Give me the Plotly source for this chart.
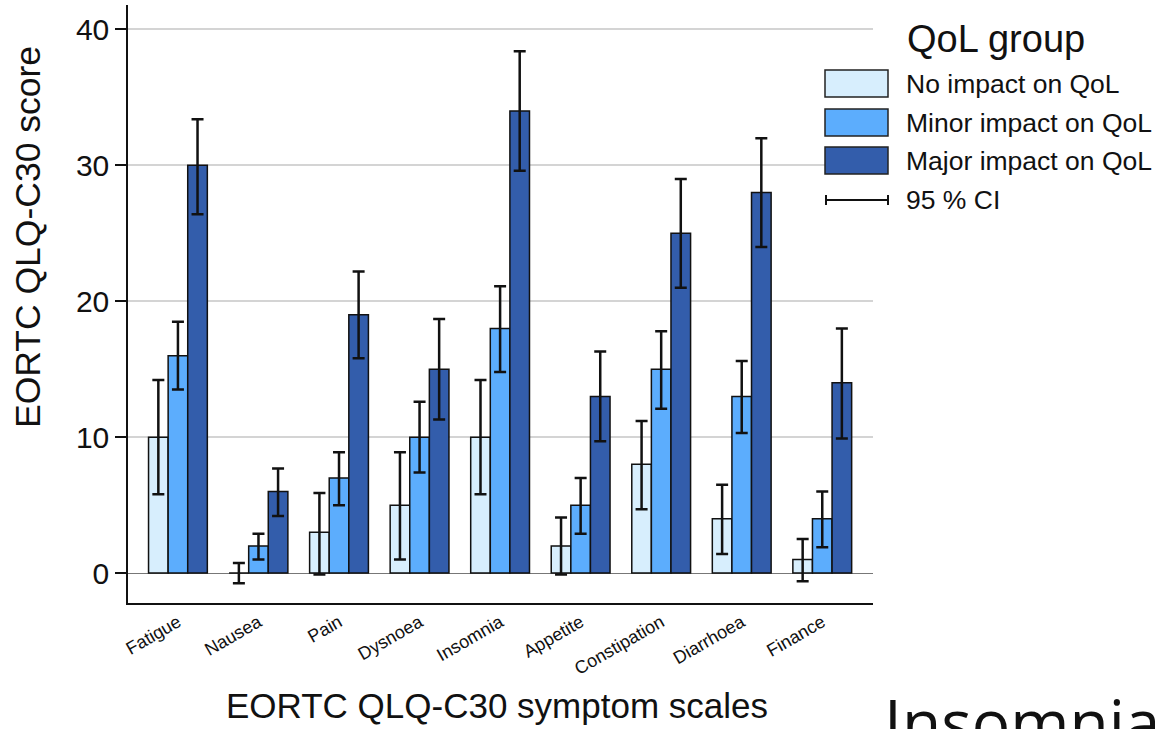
import plotly.graph_objects as go

categories = ["Fatigue", "Nausea", "Pain", "Dysnoea", "Insomnia", "Appetite",
              "Constipation", "Diarrhoea", "Finance"]
group_names = ["No impact on QoL", "Minor impact on QoL", "Major impact on QoL"]
group_colors = ["#d7eefd", "#5cadfd", "#335dab"]

no_impact = [10, 0, 3, 5, 10, 2, 8, 4, 1]
no_impact_lo = [5.8, -0.75, -0.1, 1.0, 5.8, -0.1, 4.7, 1.4, -0.6]
no_impact_hi = [14.2, 0.75, 5.9, 8.9, 14.2, 4.1, 11.2, 6.5, 2.5]

minor_impact = [16, 2, 7, 10, 18, 5, 15, 13, 4]
minor_impact_lo = [13.5, 1.0, 5.0, 7.4, 14.8, 2.9, 12.1, 10.3, 1.9]
minor_impact_hi = [18.5, 2.9, 8.9, 12.6, 21.1, 7.0, 17.8, 15.6, 6.0]

major_impact = [30, 6, 19, 15, 34, 13, 25, 28, 14]
major_impact_lo = [26.4, 4.2, 15.8, 11.3, 29.6, 9.7, 21.0, 24.0, 9.9]
major_impact_hi = [33.4, 7.7, 22.2, 18.7, 38.4, 16.3, 29.0, 32.0, 18.0]

y_ticks = [0, 10, 20, 30, 40]

series = [
    (no_impact, no_impact_lo, no_impact_hi),
    (minor_impact, minor_impact_lo, minor_impact_hi),
    (major_impact, major_impact_lo, major_impact_hi),
]

W, H = 1155, 729
L, R, T, B = 128, 873, 5, 603

fig = go.Figure()
for (vals, lo, hi), name, col in zip(series, group_names, group_colors):
    fig.add_trace(go.Bar(
        x=categories, y=vals, name=name, showlegend=False,
        marker=dict(color=col, line=dict(color="#111111", width=1.5)),
        error_y=dict(type="data", symmetric=False,
                     array=[h - v for h, v in zip(hi, vals)],
                     arrayminus=[v - l for v, l in zip(vals, lo)],
                     color="#111111", thickness=2.5, width=6),
    ))

font_main = "Liberation Sans, Arial, sans-serif"


def px(x):
    return (x - L) / (R - L)


def py(y):
    return (B - y) / (B - T)


shapes = []
annotations = []
# custom legend
box_tops = [70, 109, 147]
for top, name, col in zip(box_tops, group_names, group_colors):
    shapes.append(dict(type="rect", xref="paper", yref="paper",
                       x0=px(825), x1=px(888), y0=py(top + 27), y1=py(top),
                       fillcolor=col, line=dict(color="#222222", width=1.5)))
    annotations.append(dict(xref="paper", yref="paper", x=px(904), y=py(top + 14),
                            xanchor="left", yanchor="middle", showarrow=False,
                            text=name, font=dict(family=font_main, size=26.5, color="#111111")))
shapes.append(dict(type="line", xref="paper", yref="paper", x0=px(825), x1=px(889),
                   y0=py(200), y1=py(200), line=dict(color="#111111", width=2)))
for xx in (826, 888):
    shapes.append(dict(type="line", xref="paper", yref="paper", x0=px(xx), x1=px(xx),
                       y0=py(195), y1=py(205), line=dict(color="#111111", width=2)))
annotations.append(dict(xref="paper", yref="paper", x=px(904), y=py(200),
                        xanchor="left", yanchor="middle", showarrow=False,
                        text="95 % CI", font=dict(family=font_main, size=26.5, color="#111111")))
annotations.append(dict(xref="paper", yref="paper", x=px(905), y=py(39),
                        xanchor="left", yanchor="middle", showarrow=False,
                        text="QoL group", font=dict(family=font_main, size=38, color="#111111")))
# axis titles
annotations.append(dict(xref="paper", yref="paper", x=px(28), y=py(237),
                        xanchor="center", yanchor="middle", showarrow=False, textangle=-90,
                        text="EORTC QLQ-C30 score", font=dict(family=font_main, size=35.5, color="#111111")))
annotations.append(dict(xref="paper", yref="paper", x=px(497), y=py(705),
                        xanchor="center", yanchor="middle", showarrow=False,
                        text="EORTC QLQ-C30 symptom scales", font=dict(family=font_main, size=35, color="#111111")))
# slide text cut at bottom (as in the reference)
annotations.append(dict(xref="paper", yref="paper", x=px(882), y=py(676),
                        xanchor="left", yanchor="top", showarrow=False,
                        text="Insomnia", font=dict(family="Open Sans, sans-serif", size=64, color="#111111")))

fig.update_layout(
    width=W, height=H,
    margin=dict(l=L, r=W - R, t=T, b=H - B, pad=0, autoexpand=False),
    paper_bgcolor="white", plot_bgcolor="white",
    barmode="group", bargap=0.27, bargroupgap=0.0,
    shapes=shapes, annotations=annotations,
    font=dict(family=font_main, color="#111111"),
    xaxis=dict(range=[-0.62, 8.63], showline=True, linecolor="#111111", linewidth=1.5,
               ticks="", tickangle=-30, tickfont=dict(size=18, family=font_main),
               showgrid=False),
    yaxis=dict(range=[-2.2, 41.8], tickvals=y_ticks, showline=True, linecolor="#111111",
               linewidth=1.5, ticks="outside", ticklen=11, tickwidth=1.5, tickcolor="#111111",
               tickfont=dict(size=30, family=font_main),
               showgrid=True, gridcolor="#d4d4d4", gridwidth=2,
               zeroline=True, zerolinecolor="#777777", zerolinewidth=1),
)

fig.write_html("out.html", config={"displayModeBar": False},
               post_script="document.body.style.margin='0';document.body.style.overflow='hidden';")
